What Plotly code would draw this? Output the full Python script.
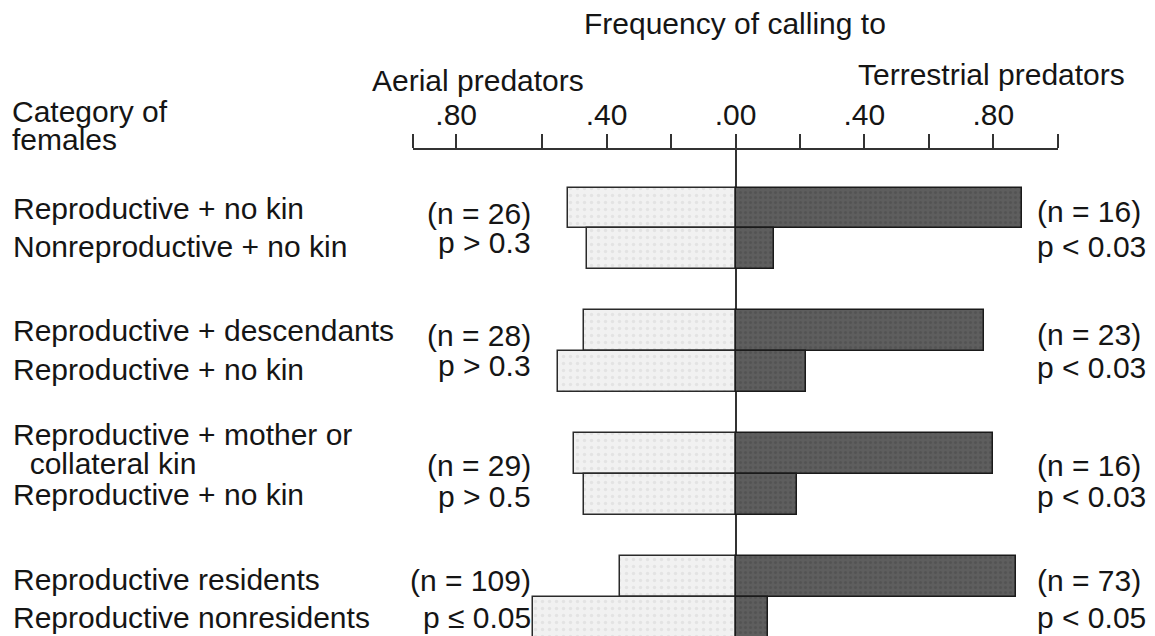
import plotly.graph_objects as go

# ---------------- data ----------------
categories = [
    "Reproductive + no kin", "Nonreproductive + no kin",
    "Reproductive + descendants", "Reproductive + no kin",
    "Reproductive + mother or<br>collateral kin", "Reproductive + no kin",
    "Reproductive residents", "Reproductive nonresidents",
]
group_of_row = [0, 0, 1, 1, 2, 2, 3, 3]
aerial = [0.52, 0.46, 0.47, 0.55, 0.50, 0.47, 0.36, 0.63]
terrestrial = [0.89, 0.12, 0.77, 0.22, 0.80, 0.19, 0.87, 0.10]

aerial_n = ["(n = 26)", "(n = 28)", "(n = 29)", "(n = 109)"]
aerial_p = ["p > 0.3", "p > 0.3", "p > 0.5", "p \u2264 0.05"]
terr_n = ["(n = 16)", "(n = 23)", "(n = 16)", "(n = 73)"]
terr_p = ["p < 0.03", "p < 0.03", "p < 0.03", "p < 0.05"]

tick_vals = [-1.0, -0.867, -0.6, -0.4, -0.2, 0.0, 0.2, 0.4, 0.6, 0.8, 1.0]
tick_text = ["", ".80", "", ".40", "", ".00", "", ".40", "", ".80", ""]

title_text = "Frequency of calling to"
left_header = "Aerial predators"
right_header = "Terrestrial predators"
cat_header = ["Category of", "females"]

# ---------------- layout constants ----------------
OFF = 8                       # page body margin of the written html
W_FIG, H_FIG = 1155 - OFF, 636 - OFF
L, T, B = 413 - OFF, 150 - OFF, 0
PW = 645
R = W_FIG - L - PW
PH = H_FIG - T - B
FONT = "Liberation Sans, Arial, Helvetica, sans-serif"
FS = 30
INK = "#151515"

# row positions: two rows per group, one empty row between groups
within = []
seen = {}
for g in group_of_row:
    within.append(seen.get(g, 0))
    seen[g] = seen.get(g, 0) + 1
row_pos = [3 * g + i for g, i in zip(group_of_row, within)]

# vertical fine offsets (pixels, positive = down)
lab_off = [0, -2, 0, -2, 0, 0, 3, 0]
n_off = [5, 5, 12, 4]
p_off = [-6, -6, 2, 0]
rn_off = [3, 4, 12, 4]
rp_off = [-2, -4, 2, 0]


def px_x(px):
    """screen pixel -> paper x"""
    return (px - OFF - L) / PW


def px_y(py):
    """screen pixel -> paper y"""
    return 1 - (py - OFF - T) / PH


fig = go.Figure()

fig.add_trace(go.Bar(
    y=row_pos, x=[-v for v in aerial], orientation="h", width=1,
    marker=dict(
        color="#efefef",
        line=dict(color="#2a2a2a", width=1.5),
        pattern=dict(shape=".", fgcolor="#d6d6d6", bgcolor="#f1f1f1",
                     size=7, solidity=0.2),
    ),
    hoverinfo="skip", showlegend=False,
))
fig.add_trace(go.Bar(
    y=row_pos, x=terrestrial, orientation="h", width=1,
    marker=dict(
        color="#595959",
        line=dict(color="#1a1a1a", width=1.5),
        pattern=dict(shape=".", fgcolor="#474747", bgcolor="#5e5e5e",
                     size=5, solidity=0.3),
    ),
    hoverinfo="skip", showlegend=False,
))

annotations = []


def add_text(text, x, y, xanchor="left", yref="paper", yshift=0, size=FS):
    annotations.append(dict(
        text=text, x=x, y=y, xref="paper", yref=yref, xanchor=xanchor,
        yanchor="middle", showarrow=False, yshift=yshift,
        borderpad=0, borderwidth=0,
        font=dict(family=FONT, size=size, color=INK),
    ))


# header texts
add_text(title_text, px_x(735), px_y(23), xanchor="center")
add_text(left_header, px_x(372), px_y(80))
add_text(right_header, px_x(858), px_y(74))
add_text(cat_header[0], px_x(12), px_y(111))
add_text(cat_header[1], px_x(12), px_y(139))

# category labels
for i, (lab, pos) in enumerate(zip(categories, row_pos)):
    parts = lab.split("<br>")
    if len(parts) == 1:
        add_text(lab, px_x(13), pos, yref="y", yshift=-lab_off[i])
    else:
        add_text(parts[0], px_x(13), pos, yref="y", yshift=19)
        add_text("\u00a0\u00a0" + parts[1], px_x(13), pos, yref="y", yshift=-10)

# n / p labels
for g in range(len(aerial_n)):
    top = row_pos[group_of_row.index(g)]
    add_text(aerial_n[g], px_x(531), top, xanchor="right", yref="y", yshift=-n_off[g])
    add_text(aerial_p[g], px_x(531), top + 1, xanchor="right", yref="y", yshift=-p_off[g])
    add_text(terr_n[g], px_x(1037), top, yref="y", yshift=-rn_off[g])
    add_text(terr_p[g], px_x(1037), top + 1, yref="y", yshift=-rp_off[g])

pitch = 40.95
row0_center = 208 - OFF
y_top = -(row0_center - T) / pitch
y_bot = (H_FIG - B - row0_center) / pitch

fig.update_layout(
    width=W_FIG, height=H_FIG,
    margin=dict(l=L, r=R, t=T, b=B, pad=0),
    paper_bgcolor="white", plot_bgcolor="white",
    barmode="relative", bargap=0,
    annotations=annotations,
    xaxis=dict(
        side="top", range=[-1.001, 1.001],
        showline=True, linecolor="#333333", linewidth=1.5,
        ticks="outside", ticklen=14, tickwidth=1.5, tickcolor="#333333",
        tickmode="array", tickvals=tick_vals, ticktext=tick_text,
        tickfont=dict(family=FONT, size=FS, color=INK),
        ticklabelstandoff=-3,
        showgrid=False, zeroline=True, zerolinecolor="#333333", zerolinewidth=1.5,
        fixedrange=True,
    ),
    yaxis=dict(
        range=[y_bot, y_top], visible=False, showgrid=False, zeroline=False,
        fixedrange=True,
    ),
)

fig.write_html("out.html")
